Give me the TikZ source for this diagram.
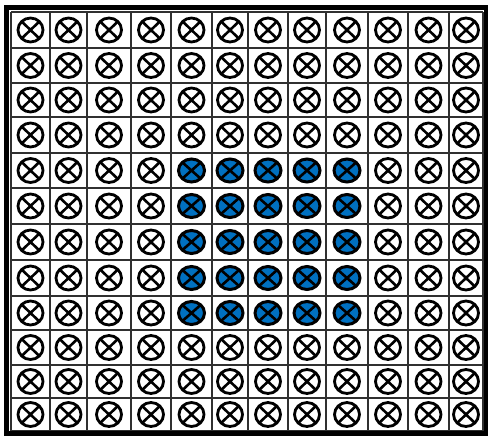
\documentclass[tikz,border=0pt]{standalone}
\usetikzlibrary{shapes.geometric}
\definecolor{cellblue}{HTML}{0070C0}
\definecolor{gridgray}{HTML}{303030}
\tikzset{
  xsym/.style={ellipse, draw=black, line width=2.8pt, inner sep=0pt,
    minimum width=25pt, minimum height=24pt,
    path picture={\draw[line width=2.6pt]
      (path picture bounding box.north west) -- (path picture bounding box.south east)
      (path picture bounding box.north east) -- (path picture bounding box.south west);}},
  xblue/.style={xsym, fill=cellblue, line width=3pt, minimum width=26pt, minimum height=23pt},
  gridline/.style={draw=gridgray, line width=1.3pt},
  frameline/.style={draw=black, line width=4.5pt}
}
\begin{document}
\begin{tikzpicture}[x=1pt,y=-1pt]
\useasboundingbox (0,0) rectangle (489,436);
\fill[white] (0,0) rectangle (489,436);
% grid lines
\foreach \x in {11,50,87,131,171,212,248,288,326,368,408,449,483}
  \draw[gridline] (\x,12) -- (\x,431);
\foreach \y in {12,48,83,117,153,188,224,260,296,330,365,398,431}
  \draw[gridline] (11,\y) -- (483,\y);
\draw[gridline, line width=1.8pt] (248,12) -- (248,431);
\draw[gridline, line width=1.8pt] (11,296) -- (483,296);
% outer frame
\draw[frameline] (6.5,7.5) rectangle (486,433.5);
% symbols
\foreach \ya/\yb [count=\r] in {12/48,48/83,83/117,117/153,153/188,188/224,224/260,260/296,296/330,330/365,365/398,398/431}
  \foreach \xa/\xb [count=\c] in {11/50,50/87,87/131,131/171,171/212,212/248,248/288,288/326,326/368,368/408,408/449,449/483}
  {
    \pgfmathsetmacro{\isblue}{(\r>=5 && \r<=9 && \c>=5 && \c<=9) ? 1 : 0}
    \ifdim\isblue pt>0.5pt
      \node[xblue] (s-\r-\c) at ({(\xa+\xb)/2},{(\ya+\yb)/2}) {};
    \else
      \node[xsym] (s-\r-\c) at ({(\xa+\xb)/2},{(\ya+\yb)/2}) {};
    \fi
  }
\end{tikzpicture}
\end{document}
